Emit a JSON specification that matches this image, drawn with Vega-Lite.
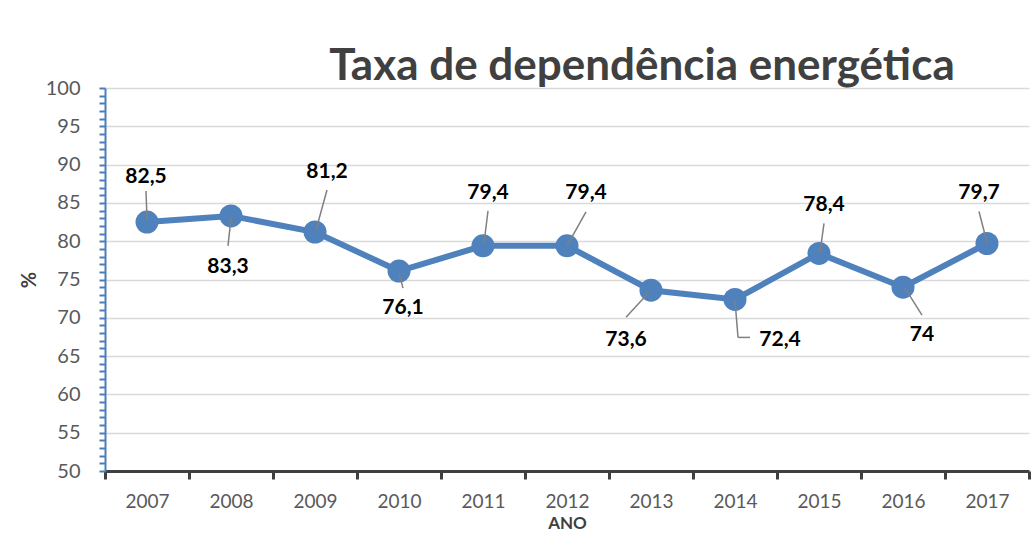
{
  "$schema": "https://vega.github.io/schema/vega-lite/v6.json",
  "width": 924,
  "height": 383,
  "autosize": "none",
  "padding": {"left": 105, "top": 88, "right": 5, "bottom": 63},
  "background": "white",
  "config": {
    "view": {"stroke": null},
    "locale": {"number": {"decimal": ",", "thousands": ".", "grouping": [3], "currency": ["", " €"]}},
    "font": "Lato"
  },
  "title": {
    "text": "Taxa de dependência energética",
    "font": "Lato",
    "fontSize": 44,
    "fontWeight": "bold",
    "color": "#404040",
    "anchor": "middle",
    "frame": "group",
    "dx": 75,
    "baseline": "alphabetic",
    "offset": -46
  },
  "data": {
    "values": [
      {"ano": 2007, "taxa": 82.5},
      {"ano": 2008, "taxa": 83.3},
      {"ano": 2009, "taxa": 81.2},
      {"ano": 2010, "taxa": 76.1},
      {"ano": 2011, "taxa": 79.4},
      {"ano": 2012, "taxa": 79.4},
      {"ano": 2013, "taxa": 73.6},
      {"ano": 2014, "taxa": 72.4},
      {"ano": 2015, "taxa": 78.4},
      {"ano": 2016, "taxa": 74},
      {"ano": 2017, "taxa": 79.7}
    ]
  },
  "encoding": {
    "x": {
      "field": "ano",
      "type": "quantitative",
      "title": "ANO",
      "scale": {"domain": [2006.5, 2017.5], "nice": false, "zero": false},
      "axis": {
        "values": [2006.5, 2007, 2007.5, 2008, 2008.5, 2009, 2009.5, 2010, 2010.5, 2011, 2011.5, 2012, 2012.5, 2013, 2013.5, 2014, 2014.5, 2015, 2015.5, 2016, 2016.5, 2017, 2017.5],
        "labelExpr": "datum.value % 1 === 0 ? '' + datum.value : ''",
        "tickOpacity": {"condition": {"test": "datum.value % 1 !== 0", "value": 1}, "value": 0},
        "grid": false,
        "domainColor": "#404040",
        "domainWidth": 3,
        "tickColor": "#404040",
        "tickWidth": 3,
        "tickSize": 8,
        "labelFont": "Lato",
        "labelFontSize": 19,
        "labelColor": "#595959",
        "labelPadding": 13,
        "labelOverlap": false,
        "labelFlush": false,
        "titleFont": "Lato",
        "titleFontSize": 17,
        "titleFontWeight": "bold",
        "titleColor": "#404040",
        "titlePadding": 4
      }
    },
    "y": {
      "field": "taxa",
      "type": "quantitative",
      "title": "%",
      "scale": {"domain": [50, 100], "nice": false, "zero": false},
      "axis": {
        "values": [50,51,52,53,54,55,56,57,58,59,60,61,62,63,64,65,66,67,68,69,70,71,72,73,74,75,76,77,78,79,80,81,82,83,84,85,86,87,88,89,90,91,92,93,94,95,96,97,98,99,100],
        "labelExpr": "datum.value % 5 === 0 ? datum.label : ''",
        "gridOpacity": {"condition": {"test": "datum.value % 5 === 0 && datum.value > 50", "value": 1}, "value": 0},
        "gridColor": "#D9D9D9",
        "gridWidth": 1.5,
        "domainColor": "#4A7EBB",
        "domainWidth": 2,
        "tickColor": "#4A7EBB",
        "tickWidth": 2,
        "tickSize": 6,
        "labelFont": "Lato",
        "labelFontSize": 20,
        "labelColor": "#595959",
        "labelPadding": 19,
        "labelOverlap": false,
        "labelFlush": false,
        "titleFont": "Lato",
        "titleFontSize": 20,
        "titleFontWeight": "bold",
        "titleColor": "#404040",
        "titlePadding": 6
      }
    }
  },
  "layer": [
    {"mark": {"type": "line", "color": "#4F81BD", "strokeWidth": 6}},
    {"mark": {"type": "point", "filled": true, "opacity": 1, "color": "#4F81BD", "size": 530}},
    {"transform": [{"filter": "datum.ano == 2007"}], "mark": {"type": "rule", "color": "#808080", "strokeWidth": 1.5, "xOffset": 0, "yOffset": -3, "x2Offset": -1, "y2Offset": -31}, "encoding": {"x2": {"field": "ano"}, "y2": {"field": "taxa"}}},
    {"transform": [{"filter": "datum.ano == 2008"}], "mark": {"type": "rule", "color": "#808080", "strokeWidth": 1.5, "xOffset": 0, "yOffset": 2, "x2Offset": -3, "y2Offset": 30}, "encoding": {"x2": {"field": "ano"}, "y2": {"field": "taxa"}}},
    {"transform": [{"filter": "datum.ano == 2009"}], "mark": {"type": "rule", "color": "#808080", "strokeWidth": 1.5, "xOffset": 1, "yOffset": -2, "x2Offset": 12, "y2Offset": -42}, "encoding": {"x2": {"field": "ano"}, "y2": {"field": "taxa"}}},
    {"transform": [{"filter": "datum.ano == 2010"}], "mark": {"type": "rule", "color": "#808080", "strokeWidth": 1.5, "xOffset": 0, "yOffset": 2, "x2Offset": 4, "y2Offset": 17}, "encoding": {"x2": {"field": "ano"}, "y2": {"field": "taxa"}}},
    {"transform": [{"filter": "datum.ano == 2011"}], "mark": {"type": "rule", "color": "#808080", "strokeWidth": 1.5, "xOffset": 1, "yOffset": -3, "x2Offset": 5, "y2Offset": -35}, "encoding": {"x2": {"field": "ano"}, "y2": {"field": "taxa"}}},
    {"transform": [{"filter": "datum.ano == 2012"}], "mark": {"type": "rule", "color": "#808080", "strokeWidth": 1.5, "xOffset": 0, "yOffset": 0, "x2Offset": 19, "y2Offset": -34}, "encoding": {"x2": {"field": "ano"}, "y2": {"field": "taxa"}}},
    {"transform": [{"filter": "datum.ano == 2013"}], "mark": {"type": "rule", "color": "#808080", "strokeWidth": 1.5, "xOffset": -2, "yOffset": 2, "x2Offset": -25, "y2Offset": 27}, "encoding": {"x2": {"field": "ano"}, "y2": {"field": "taxa"}}},
    {"transform": [{"filter": "datum.ano == 2014"}], "mark": {"type": "rule", "color": "#808080", "strokeWidth": 1.5, "xOffset": 0, "yOffset": 1, "x2Offset": 3, "y2Offset": 38}, "encoding": {"x2": {"field": "ano"}, "y2": {"field": "taxa"}}},
    {"transform": [{"filter": "datum.ano == 2014"}], "mark": {"type": "rule", "color": "#808080", "strokeWidth": 1.5, "xOffset": 3, "yOffset": 38, "x2Offset": 15, "y2Offset": 38}, "encoding": {"x2": {"field": "ano"}, "y2": {"field": "taxa"}}},
    {"transform": [{"filter": "datum.ano == 2015"}], "mark": {"type": "rule", "color": "#808080", "strokeWidth": 1.5, "xOffset": 1, "yOffset": -1, "x2Offset": 5, "y2Offset": -30}, "encoding": {"x2": {"field": "ano"}, "y2": {"field": "taxa"}}},
    {"transform": [{"filter": "datum.ano == 2016"}], "mark": {"type": "rule", "color": "#808080", "strokeWidth": 1.5, "xOffset": 2, "yOffset": 1, "x2Offset": 19, "y2Offset": 28}, "encoding": {"x2": {"field": "ano"}, "y2": {"field": "taxa"}}},
    {"transform": [{"filter": "datum.ano == 2017"}], "mark": {"type": "rule", "color": "#808080", "strokeWidth": 1.5, "xOffset": 0, "yOffset": -1, "x2Offset": -8, "y2Offset": -32}, "encoding": {"x2": {"field": "ano"}, "y2": {"field": "taxa"}}},
    {"transform": [{"filter": "datum.ano == 2007"}], "mark": {"type": "text", "font": "Lato", "fontSize": 21, "fontWeight": "bold", "color": "#000000", "align": "center", "baseline": "middle", "dx": -1, "dy": -45}, "encoding": {"text": {"field": "taxa", "type": "quantitative", "format": "~g"}}},
    {"transform": [{"filter": "datum.ano == 2008"}], "mark": {"type": "text", "font": "Lato", "fontSize": 21, "fontWeight": "bold", "color": "#000000", "align": "center", "baseline": "middle", "dx": -3, "dy": 51}, "encoding": {"text": {"field": "taxa", "type": "quantitative", "format": "~g"}}},
    {"transform": [{"filter": "datum.ano == 2009"}], "mark": {"type": "text", "font": "Lato", "fontSize": 21, "fontWeight": "bold", "color": "#000000", "align": "center", "baseline": "middle", "dx": 12, "dy": -60}, "encoding": {"text": {"field": "taxa", "type": "quantitative", "format": "~g"}}},
    {"transform": [{"filter": "datum.ano == 2010"}], "mark": {"type": "text", "font": "Lato", "fontSize": 21, "fontWeight": "bold", "color": "#000000", "align": "center", "baseline": "middle", "dx": 4, "dy": 37}, "encoding": {"text": {"field": "taxa", "type": "quantitative", "format": "~g"}}},
    {"transform": [{"filter": "datum.ano == 2011"}], "mark": {"type": "text", "font": "Lato", "fontSize": 21, "fontWeight": "bold", "color": "#000000", "align": "center", "baseline": "middle", "dx": 5, "dy": -53}, "encoding": {"text": {"field": "taxa", "type": "quantitative", "format": "~g"}}},
    {"transform": [{"filter": "datum.ano == 2012"}], "mark": {"type": "text", "font": "Lato", "fontSize": 21, "fontWeight": "bold", "color": "#000000", "align": "center", "baseline": "middle", "dx": 19, "dy": -53}, "encoding": {"text": {"field": "taxa", "type": "quantitative", "format": "~g"}}},
    {"transform": [{"filter": "datum.ano == 2013"}], "mark": {"type": "text", "font": "Lato", "fontSize": 21, "fontWeight": "bold", "color": "#000000", "align": "center", "baseline": "middle", "dx": -25, "dy": 50}, "encoding": {"text": {"field": "taxa", "type": "quantitative", "format": "~g"}}},
    {"transform": [{"filter": "datum.ano == 2014"}], "mark": {"type": "text", "font": "Lato", "fontSize": 21, "fontWeight": "bold", "color": "#000000", "align": "center", "baseline": "middle", "dx": 45, "dy": 41}, "encoding": {"text": {"field": "taxa", "type": "quantitative", "format": "~g"}}},
    {"transform": [{"filter": "datum.ano == 2015"}], "mark": {"type": "text", "font": "Lato", "fontSize": 21, "fontWeight": "bold", "color": "#000000", "align": "center", "baseline": "middle", "dx": 5, "dy": -48}, "encoding": {"text": {"field": "taxa", "type": "quantitative", "format": "~g"}}},
    {"transform": [{"filter": "datum.ano == 2016"}], "mark": {"type": "text", "font": "Lato", "fontSize": 21, "fontWeight": "bold", "color": "#000000", "align": "center", "baseline": "middle", "dx": 19, "dy": 48}, "encoding": {"text": {"field": "taxa", "type": "quantitative", "format": "~g"}}},
    {"transform": [{"filter": "datum.ano == 2017"}], "mark": {"type": "text", "font": "Lato", "fontSize": 21, "fontWeight": "bold", "color": "#000000", "align": "center", "baseline": "middle", "dx": -8, "dy": -50}, "encoding": {"text": {"field": "taxa", "type": "quantitative", "format": "~g"}}}
  ]
}
